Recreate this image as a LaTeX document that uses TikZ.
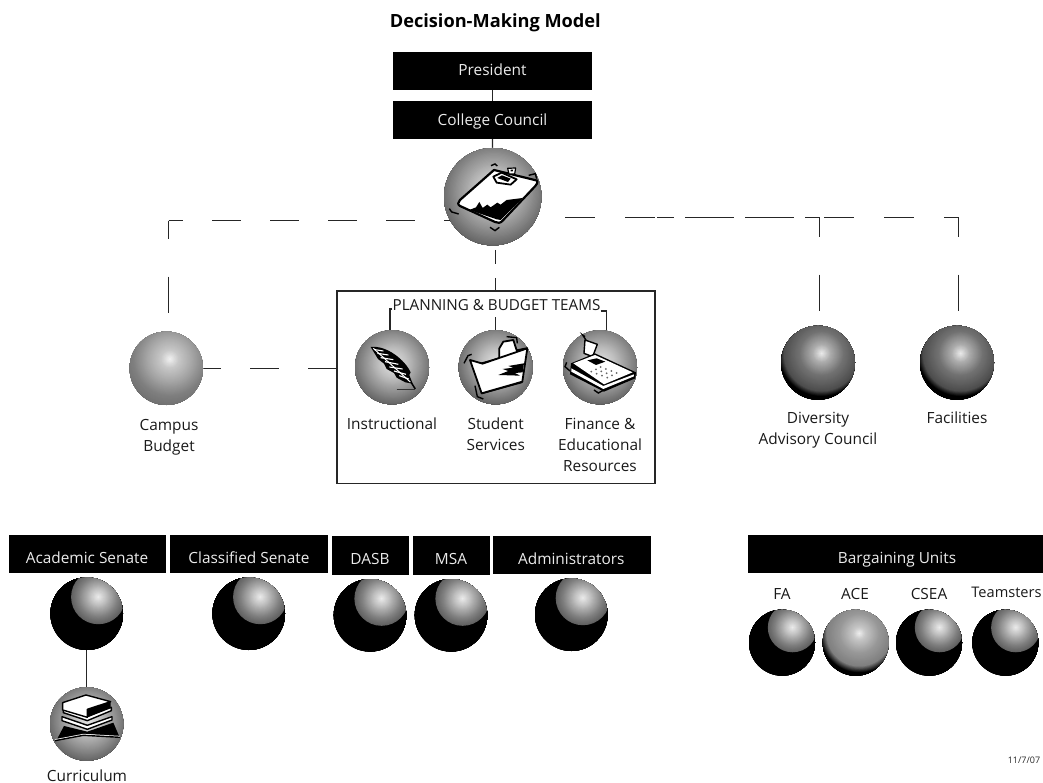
\documentclass[tikz,border=0pt]{standalone}
\usepackage{fontspec}
\setmainfont{Open Sans}
\usetikzlibrary{calc}
\pgfdeclarelayer{bg}
\pgfsetlayers{bg,main}
% a sphere's gradient: nested discs round the highlight, clipped to the node
\newcommand{\orbpaint}[4]{%
  \fill[black] (path picture bounding box.south west) rectangle (path picture bounding box.north east);
  \foreach \k in {64,63,...,0}{%
    \pgfmathsetmacro{\orbt}{\k/40}%
    \pgfmathsetmacro{\orbg}{#4(\orbt)}%
    \pgfmathsetmacro{\orbr}{\orbt*#3}%
    \pgfmathsetmacro{\orbx}{#1*#3}%
    \pgfmathsetmacro{\orby}{-#2*#3}%
    \definecolor{orbtone}{gray}{\orbg}%
    \fill[orbtone] ([shift={(\orbx,\orby)}]path picture bounding box.center) circle (\orbr pt);
  }%
}
\tikzset{
  orb/.style n args={4}{circle,inner sep=0pt,outer sep=0pt,minimum size=2*#1 pt,path picture={\orbpaint{#2}{#3}{#1}{#4}}},
  blackorb/.style={orb={#1}{0.32}{0.46}{tblack}},
  greyorb/.style={orb={#1}{0.10}{0.25}{tgrey}},
  duskorb/.style={orb={#1}{0.10}{0.25}{tdusk}},
  aceorb/.style={orb={#1}{0.11}{0.28}{tace}},
  iconorb/.style={orb={#1}{0.03}{0.10}{ticon}},
  bar/.style={fill=black,draw=none,inner sep=0pt,outer sep=0pt},
  bartext/.style={text=white!92!black,anchor=base,inner sep=0pt,font=\fontsize{15.4}{21}\selectfont},
  lab/.style={text=black!90,anchor=base,inner sep=0pt,align=center,font=\fontsize{15.4}{21}\selectfont},
  link/.style={draw=black!85,line width=1.3pt},
  hdash/.style={link,dash pattern=on 30pt off 30pt,dash phase=15pt},
  ink/.style={fill=black,draw=none},
  paper/.style={fill=white,draw=black,line width=1.8pt,line join=round}
}
\begin{document}
\begin{tikzpicture}[x=1pt,y=-1pt,
  declare function={
    tblack(\t)=\t<0.25 ? 0.94-0.8*\t : (\t<0.55 ? 0.74-0.8*(\t-0.25) : (\t<0.77 ? 0.50-0.6*(\t-0.55) : 0));
    tgrey(\t)=\t<0.25 ? 0.96-0.7*\t : (\t<0.7 ? 0.785-0.36*(\t-0.25) : (\t<1 ? 0.62-0.4*(\t-0.7) : 0.50-0.2*(\t-1)));
    tdusk(\t)=\t<0.25 ? 0.94-1.04*\t : (\t<0.6 ? 0.68-0.66*(\t-0.25) : (\t<1.03 ? 0.45-0.35*(\t-0.6) : (\t<1.17 ? 0.30-2.14*(\t-1.03) : 0)));
    tace(\t)=\t<0.2 ? 0.95-0.85*\t : (\t<0.6 ? 0.78-0.45*(\t-0.2) : (\t<1 ? 0.60-0.25*(\t-0.6) : (\t<1.2 ? 0.50-2.5*(\t-1) : 0)));
    ticon(\t)=\t<0.4 ? 0.90-0.375*\t : (\t<0.75 ? 0.75-0.49*(\t-0.4) : 0.58-0.5*(\t-0.75));
  }]
\useasboundingbox (0,0) rectangle (1043,783);
% title
\node[anchor=base,inner sep=0pt,font=\fontsize{18.2}{22}\selectfont\bfseries] (title) at (495.3,27.3) {Decision-Making Model};
% top bars
\node[bar,minimum width=199pt,minimum height=38pt] (president) at (492.5,71) {};
\node[bar,minimum width=199pt,minimum height=38pt] (council) at (492.5,120) {};
\node[bartext] (presidentT) at (492.5,75.7) {President};
\node[bartext] (councilT) at (492.5,125.5) {College Council};
% central sphere and the planning box
\node[iconorb=48.7] (hub) at (492.7,196.7) {};
\node[draw=black!85,line width=1.3pt,minimum width=318pt,minimum height=192.6pt,inner sep=0pt,outer sep=0pt] (teams) at (495.85,387.2) {};
\node[anchor=base,inner sep=0pt,font=\fontsize{15.2}{18}\selectfont,text=black!90] (teamsT) at (496.5,310.7) {PLANNING \& BUDGET TEAMS};
% spheres
\node[greyorb=36.7] (campus) at (166.3,368.3) {};
\node[iconorb=37] (instr) at (392,367.3) {};
\node[iconorb=37] (student) at (495.7,367.3) {};
\node[iconorb=37] (finance) at (600,367.3) {};
\node[duskorb=37] (diversity) at (818,362.7) {};
\node[duskorb=37] (facilities) at (957,362.7) {};
\node[blackorb=36.3] (acadB) at (86.7,613.7) {};
\node[blackorb=36.3] (classB) at (248.7,613.7) {};
\node[blackorb=36.3] (dasbB) at (370,615.3) {};
\node[blackorb=36.3] (msaB) at (451,615.3) {};
\node[blackorb=36.3] (adminB) at (571.3,614.7) {};
\node[iconorb=36.7] (curric) at (86.7,724) {};
\node[blackorb=33] (faB) at (782,642.7) {};
\node[aceorb=33] (aceB) at (855.7,642.7) {};
\node[blackorb=33] (cseaB) at (929,642.7) {};
\node[blackorb=33] (teamB) at (1005.3,642.7) {};
% labels
\node[lab] (instrT) at (392,429.3) {Instructional};
\node[lab,anchor=center] (studentT) at (495.7,434.5) {Student\\Services};
\node[lab,anchor=center] (financeT) at (600,445) {Finance \&\\Educational\\Resources};
\node[lab,anchor=center] (campusT) at (169,437.5) {Campus\\Budget};
\node[lab,anchor=center] (diversityT) at (818,430.5) {Diversity\\Advisory Council};
\node[lab] (facilitiesT) at (957,423.3) {Facilities};
\node[lab] (curricT) at (87,781) {Curriculum};
% lower bars
\node[bar,minimum width=157pt,minimum height=38pt] (acad) at (87.5,554) {};
\node[bar,minimum width=158pt,minimum height=38pt] (classif) at (249,554) {};
\node[bar,minimum width=77pt,minimum height=38.7pt] (dasb) at (370.5,555.3) {};
\node[bar,minimum width=77pt,minimum height=38.7pt] (msa) at (451.5,555.3) {};
\node[bar,minimum width=158pt,minimum height=38pt] (admin) at (572,555) {};
\node[bar,minimum width=295pt,minimum height=38pt] (barg) at (895.5,554) {};
\node[bartext] (acadT) at (87,563) {Academic Senate};
\node[bartext] (classifT) at (249,563) {Classified Senate};
\node[bartext] (dasbT) at (370,564) {DASB};
\node[bartext] (msaT) at (451,564) {MSA};
\node[bartext] (adminT) at (571.3,564) {Administrators};
\node[bartext] (bargT) at (897,563) {Bargaining Units};
\node[lab] (faT) at (782,599.3) {FA};
\node[lab] (aceT) at (855,599.3) {ACE};
\node[lab] (cseaT) at (929,599) {CSEA};
\node[lab,font=\fontsize{14.6}{21}\selectfont] (teamT) at (1006.5,597.3) {Teamsters};
\node[anchor=base,inner sep=0pt,font=\fontsize{9}{10}\selectfont,text=black!85] (date) at (1024,763) {11/7/07};
% connector corners
\coordinate (cornerL) at (168.7,220.7);
\coordinate (cornerD) at (819.5,217.5);
\coordinate (cornerF) at (958.5,217.5);
\coordinate (stopF) at (657,217.5);
\coordinate (hubFoot) at (495.7,245.4);
\coordinate (teamBarL) at (389.9,309);
\coordinate (teamBarR) at (606.7,311);
\begin{pgfonlayer}{bg}
\draw[link] (president) -- (council);
\draw[link] (council) -- (hub);
\draw[link,dash pattern=on 29pt off 29pt,dash phase=14.5pt] (cornerL) -- (cornerL -| hub.center);
\draw[link,dash pattern=on 18.3pt off 37.7pt on 36.3pt off 100pt] (cornerL) -- (cornerL |- campus.north);
\draw[hdash] (cornerD) -- (cornerD -| hub.center);
\draw[hdash] (cornerF) -- (stopF);
\draw[link,dash pattern=on 19.2pt off 38pt on 36.8pt off 100pt] (cornerD) -- (cornerD |- diversity.north);
\draw[link,dash pattern=on 19.2pt off 38pt on 36.8pt off 100pt] (cornerF) -- (cornerF |- facilities.north);
\draw[link,dash pattern=on 14pt off 14pt,dash phase=23.4pt] (hubFoot) -- (hubFoot |- teams.north);
\draw[link,dash pattern=on 29pt off 29pt,dash phase=11pt] (campus.east) -- (teams.west |- campus.east);
\draw[link] (teamsT.north west |- teamBarL) -- (teamBarL) -- (teamBarL |- instr.north);
\draw[link] (student.north) -- ++(0,-13.5);
\draw[link] (teamsT.south east |- teamBarR) -- (teamBarR) -- (teamBarR |- finance.north);
\draw[link] (acadB) -- (curric);
\end{pgfonlayer}
% clipboard icon
\begin{scope}[shift={(380,40)},x=0.3333pt,y=-0.3333pt]
\draw[paper,line width=2.2pt] (342,390) -- (472,422) .. controls (474,427) and (470,434) .. (466,438) -- (368,542) .. controls (362,550) and (352,550) .. (345,546) -- (240,498) .. controls (232,494) and (234,486) .. (240,480) -- cycle;
\fill[ink] (268,510) -- (288,502) -- (298,486) -- (308,504) -- (322,494) -- (332,502) -- (352,488) -- (362,494) -- (380,480) -- (428,474) -- (362,540) -- (350,538) -- cycle;
\draw[paper] (340,410) -- (365,398) -- (410,418) -- (392,434) -- (350,428) -- cycle;
\fill[ink] (352,414) -- (366,406) -- (392,416) -- (384,426) -- cycle;
\draw[paper,line width=1.2pt] (383,385) -- (407,384) -- (404,402) -- (387,402) -- cycle;
\fill[ink] (392,389) -- (400,389) -- (398,394) -- (392,394) -- cycle;
\draw[black,line width=1.4pt] (333,377) -- (345,372) -- (352,378) (446,406) -- (466,401) -- (470,416) (208,506) -- (215,516) -- (236,522) (330,562) -- (345,572) -- (358,562);
\end{scope}
% feather, folder, calculator icons
\begin{scope}[shift={(340,285)},x=0.3333pt,y=-0.3333pt]
\fill[ink] (92,186) .. controls (140,180) and (195,225) .. (212,262) -- (208,270) -- (218,296) -- (196,292) -- (170,278) -- (162,264) -- (140,252) -- (132,236) -- (114,222) -- cycle;
\draw[white,line width=1.1pt] (105,194) -- (130,198) (112,205) -- (145,210) (122,218) -- (160,224) (135,230) -- (175,238) (148,246) -- (188,252) (162,258) -- (198,268) (178,272) -- (206,282);
\draw[white,line width=1pt] (100,190) -- (212,292);
\draw[black,line width=1.5pt] (212,290) -- (226,312);
\draw[black!80,line width=0.8pt] (170,313) -- (226,313);
% folder
\draw[paper] (425,235) -- (478,220) -- (478,190) -- (490,170) -- (520,165) -- (530,196) -- (560,190) -- (545,292) -- (425,325) -- cycle;
\draw[paper] (390,225) -- (428,236) -- (562,190) -- (547,290) -- (425,325) -- cycle;
\fill[ink] (475,270) -- (505,258) -- (488,252) -- (520,248) -- (505,243) -- (552,235) -- (548,262) -- (525,264) -- (540,272) -- (508,271) -- cycle;
\draw[black,line width=1.4pt] (372,235) -- (384,212) -- (395,208) (405,302) -- (412,335) -- (430,342) (500,155) -- (530,158) -- (532,175);
% calculator
\draw[paper,line width=1.4pt] (735,165) -- (772,178) -- (758,215) -- (732,205) -- cycle;
\fill[ink] (693,235) -- (765,205) -- (888,262) -- (886,280) -- (792,320) -- (690,268) -- cycle;
\fill[white] (700,235) -- (765,210) -- (878,262) -- (792,298) -- cycle;
\fill[white] (694,250) -- (790,303) -- (882,268) -- (882,274) -- (790,312) -- (694,260) -- cycle;
\fill[ink] (742,226) -- (770,220) -- (796,230) -- (768,240) -- cycle;
\foreach \i in {0,1,2,3} \foreach \j in {0,1,2}
  \fill[black!60] ({782+\i*16+\j*-14},{246+\i*6+\j*7}) circle (3);
\draw[black,line width=1.4pt] (735,155) -- (728,150) -- (738,165) (680,232) -- (675,245) -- (690,258) (762,315) -- (775,324) -- (790,316);
\end{scope}
% books icon
\begin{scope}[shift={(0,530)},x=0.3333pt,y=-0.3333pt]
\fill[ink] (170,630) -- (192,588) -- (262,605) -- (340,578) -- (358,620) -- (262,612) -- cycle;
\draw[white,line width=1.6pt] (165,630) -- (250,614) -- (360,620);
\draw[black,line width=1.4pt] (165,632) -- (250,616) -- (360,622);
\draw[paper,line width=1.4pt] (186,572) -- (262,598) -- (336,570) -- (336,560) -- (262,586) -- (186,560) -- cycle;
\draw[paper,line width=1.4pt] (190,548) -- (262,572) -- (334,542) -- (334,532) -- (262,560) -- (190,536) -- cycle;
\fill[ink] (262,538) -- (332,515) -- (332,532) -- (262,562) -- cycle;
\draw[paper,line width=1.4pt] (188,518) -- (258,495) -- (332,515) -- (262,538) -- (262,562) -- (188,540) -- cycle;
\end{scope}
\end{tikzpicture}
\end{document}
